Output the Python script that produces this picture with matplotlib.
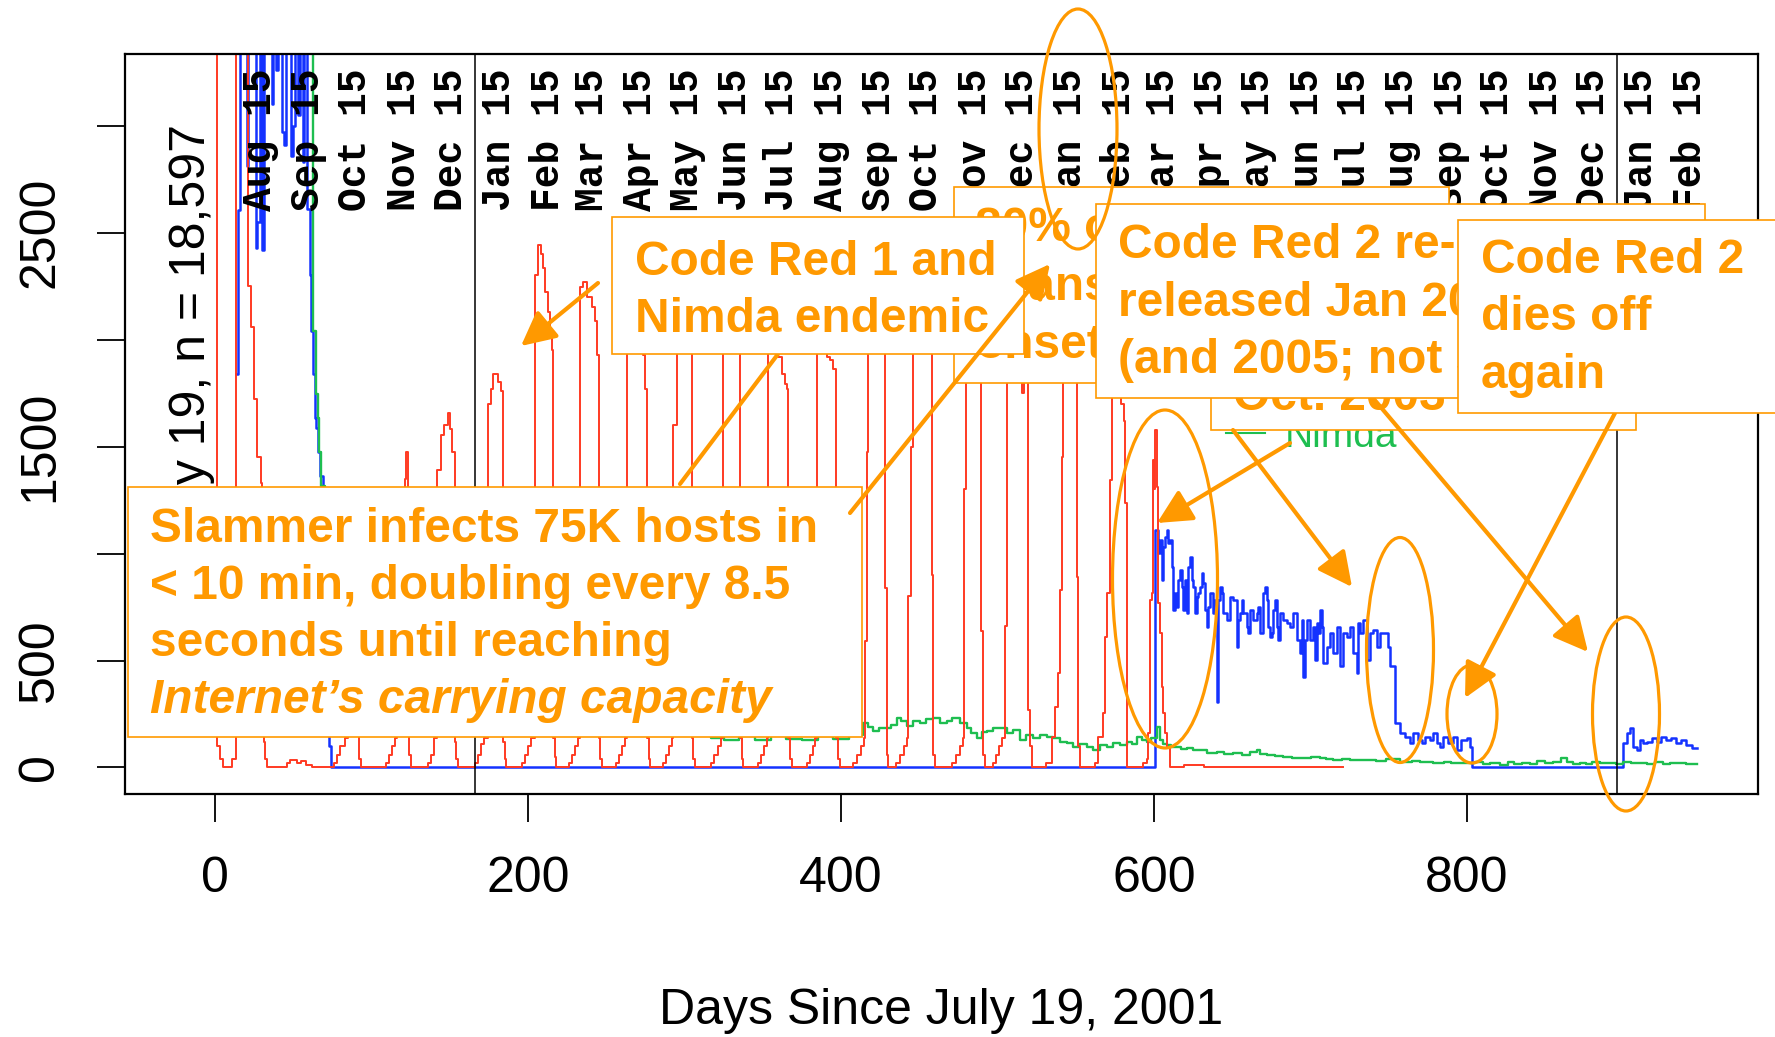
import matplotlib
matplotlib.use("Agg")
import matplotlib.pyplot as plt
from matplotlib.patches import Rectangle, Ellipse, FancyArrowPatch, ArrowStyle
from matplotlib.lines import Line2D

plt.rcParams['font.family'] = ['Liberation Sans', 'DejaVu Sans']

# hosts seen per day, (day since 2001-07-19, count) step points
red_pts = [
    (0, 4200), (1.4, 100), (3, 40), (5, 0), (11, 40), (13, 4200), (21, 2250), (23, 2060),
    (25, 1720), (27, 1450), (29, 1330), (30, 800), (31, 120), (32, 40), (33, 0),
    (46, 20), (48, 35), (52, 20), (55, 30), (58, 10), (62, 0),
    (76, 20), (78, 60), (80, 100), (83, 140), (85, 900), (89, 700), (91, 150), (92, 40), (93, 0),
    (109, 20), (111, 60), (113, 100), (115, 140), (116, 600), (121, 1350), (122, 1475), (123, 700),
    (124, 60), (125, 0),
    (136, 20), (138, 60), (140, 140), (141.5, 1390), (144.5, 1554), (146, 1600), (149, 1656),
    (150, 1580), (151.5, 1474), (153, 120), (154, 40), (155, 0),
    (166, 20), (168, 60), (170, 110), (172, 140), (174.5, 1700), (176, 1769), (177.5, 1837),
    (181, 1800), (182.5, 1760), (184, 120), (185, 40), (186, 0),
    (196, 20), (198, 60), (200, 100), (202, 140), (204.4, 2300), (206, 2440), (208, 2400),
    (209.5, 2335), (211, 2222), (212.5, 2131), (214, 2041), (215, 1950), (215.6, 1882),
    (216.1, 140), (217, 50), (218, 0),
    (226, 20), (228, 60), (230, 100), (232, 140), (233.2, 2245), (235, 2270), (237.5, 2200),
    (240.5, 2154), (242.8, 2086), (244, 1928), (245, 140), (246, 40), (247, 0),
    (256, 20), (258, 60), (260, 100), (262, 140), (263, 2300), (268, 2200), (272, 2050),
    (273.6, 1928), (274.7, 1769), (275.8, 140), (277, 40), (278, 0),
    (286, 20), (288, 60), (290, 100), (292, 140), (292.8, 1600), (294.9, 2300), (300, 2250),
    (304.5, 140), (305.5, 40), (306.5, 0),
    (317, 20), (319, 60), (321, 100), (323.5, 140), (324.8, 2250), (330, 2200), (334.4, 2000),
    (335.4, 140), (336.5, 40), (337.5, 0),
    (347, 20), (349, 60), (351, 100), (352.5, 140), (353.5, 2250), (357, 2150), (359.9, 1917),
    (362, 1837), (364.2, 1792), (365.2, 1769), (366.3, 140), (367.5, 40), (368.5, 0),
    (378, 20), (380, 60), (382, 100), (383.5, 140), (384.4, 2100), (388, 1980), (391, 1917),
    (393, 1905), (395, 1860), (397, 140), (398, 40), (399, 0),
    (407.5, 20), (410, 60), (412.5, 100), (414.5, 140), (415.3, 590), (416.3, 1475), (417.3, 2300),
    (422, 2250), (427, 1950), (428, 840), (429.1, 60), (430, 0),
    (435, 20), (437.5, 60), (440, 100), (442, 140), (443, 800), (444.5, 1500), (446, 2300),
    (452, 2250), (456.8, 2000), (458, 900), (459, 60), (460, 0),
    (471, 20), (473.5, 60), (476, 100), (478, 140), (478.5, 1300), (480, 2300), (486, 2250),
    (488.8, 1900), (489.5, 640), (490.9, 60), (492, 0),
    (497, 20), (499, 60), (501, 100), (503, 140), (504.7, 660), (505.8, 2300), (510, 2250),
    (513, 2200), (515.5, 1750), (517, 2000), (519.6, 270), (520.7, 100), (521.8, 0),
    (531, 20), (534.6, 144), (536.7, 285), (538.8, 440), (539.9, 830), (540.9, 1453), (542, 2300),
    (548, 2250), (550.5, 892), (551.6, 100), (552.7, 0),
    (562, 20), (564.4, 144), (567.6, 253), (568.6, 612), (569.7, 814), (571.8, 1344), (572.9, 2300),
    (576, 2200), (577, 1800), (579, 1700), (580.5, 1620), (581.4, 1235), (582.5, 0),
    (593, 20), (595.3, 40), (596.3, 160), (597.4, 783), (598.5, 814), (599.5, 1438), (600.2, 1300),
    (600.6, 1578), (601.6, 1313), (602.7, 767), (603.8, 627), (604.8, 378), (605.9, 253),
    (607, 160), (608, 98), (610.2, 0), (619, 12), (632, 0), (721, 0),
]

blue_pts = [
    (13.5, 1840), (14.5, 2606), (15.5, 4000), (20, 2810), (21, 4000), (26, 2430), (27, 2550),
    (28.5, 4000), (30, 2420), (31, 4000), (36, 3100), (37, 4000), (39, 3260), (40, 4000),
    (42.5, 2970), (44, 2910), (45, 4000), (48.5, 2860), (50, 3000), (51, 4000), (53, 3050),
    (54, 4000), (56, 2830), (57, 4000), (58.5, 2610), (60.5, 2300), (61.5, 2041), (62.5, 1837),
    (63.5, 1633), (64.5, 1588), (65.5, 1475), (67, 1362), (69, 1000), (71, 600), (72, 300),
    (73, 100), (74, 0),
    (600.3, 1110), (602.7, 1001), (603.8, 1064), (604.8, 877), (605.9, 1032), (607, 1079),
    (608, 1110), (609.1, 1048), (610.2, 1064), (611.2, 939), (612.3, 736), (613.4, 814),
    (614.4, 752), (615.5, 877), (616.6, 923), (617.6, 845), (618.7, 736), (619.8, 877),
    (620.8, 721), (621.9, 939), (623, 986), (624, 877), (625.1, 845), (626.1, 721), (627.2, 799),
    (628.3, 814), (629.3, 845), (630.4, 908), (631.5, 861), (632.5, 736), (633.6, 658),
    (634.7, 752), (635.7, 814), (637.9, 721), (638.9, 783), (640, 308), (641.1, 783), (642.1, 845),
    (643.2, 814), (644.3, 721), (646.4, 690), (648.5, 799), (650.6, 783), (652.8, 565),
    (653.8, 690), (654.9, 721), (656, 783), (657, 721), (659.2, 658), (660.2, 627), (661.3, 736),
    (663.4, 690), (665.5, 721), (666.6, 752), (667.7, 627), (669.8, 814), (670.9, 845),
    (672, 783), (673, 658), (674.1, 612), (675.1, 627), (676.2, 736), (677.3, 783), (678.3, 658),
    (679.4, 596), (680.5, 721), (682.6, 690), (684.7, 674), (686.9, 658), (689, 721), (691.1, 596),
    (693.2, 534), (694.3, 690), (695.4, 425), (696.4, 596), (697.5, 690), (699.6, 596),
    (701.8, 658), (702.8, 503), (703.9, 674), (704.9, 627), (706, 736), (707.1, 658), (708.2, 487),
    (710.3, 565), (712.4, 627), (714.5, 534), (716.7, 658), (718.8, 472), (720.9, 627),
    (723.1, 612), (725.2, 658), (727.3, 534), (729.4, 440), (730.5, 674), (731.6, 627),
    (733.7, 690), (735.8, 503), (738, 627), (740.1, 643), (742.2, 565), (744.4, 627), (746.5, 627),
    (748.6, 627), (749.7, 565), (750.7, 472), (752.9, 472), (753.9, 207), (757.1, 160),
    (760.3, 144), (763.5, 113), (765.7, 160), (768.9, 129), (771, 113), (773.1, 144), (776.3, 129),
    (778.4, 160), (780.6, 113), (782.7, 97), (784.8, 144), (788, 113), (791.2, 144), (793.4, 82),
    (796.5, 129), (799.7, 136), (801.9, 97), (802.9, 0),
    (900, 113), (902, 160), (904.1, 183), (906.2, 97), (908.4, 82), (910.5, 129), (912.6, 113),
    (914.8, 121), (918, 136), (921.2, 121), (924.3, 144), (927.5, 129), (930.7, 136), (933.9, 113),
    (937.1, 129), (940.3, 105), (943.5, 90), (946.7, 90),
]

green_pts = [
    (60.5, 4000), (62.3, 2041), (64.4, 1747), (65.5, 1633), (66.6, 1475), (67.6, 1316),
    (70, 1100), (80, 900), (100, 700), (130, 500), (160, 420), (200, 330), (250, 250), (290, 200),
    (310, 170), (317, 140), (325, 128), (335, 145), (345, 130), (355, 150), (365, 135), (375, 128),
    (385, 145), (395, 132), (405, 150),
    (414.2, 206), (417, 190), (420.6, 170), (424, 185), (429.1, 183), (432, 200), (435.5, 229),
    (438, 215), (441.9, 195), (446, 215), (450.4, 206), (454, 225), (459, 229), (463, 210),
    (467.5, 217), (471, 230), (476, 206), (480.3, 183), (483, 160), (486.6, 138), (490, 165),
    (493, 172), (497, 185), (501.6, 183), (505.8, 160), (510, 175), (514.3, 129), (518, 150),
    (522.8, 137), (527, 150), (531.4, 144), (535.6, 137), (540, 120), (544.1, 113), (548.4, 98),
    (552, 110), (556.9, 98), (561.2, 82), (565.4, 105), (570, 95), (574, 113), (578, 105),
    (582.5, 121), (586, 110), (588.9, 144), (592, 130), (595.3, 121), (598, 140), (601.6, 191),
    (603.8, 129), (606, 110), (608, 105), (611, 95), (614.4, 98), (617, 85), (620.8, 90),
    (625, 80), (629.3, 82), (634, 70), (640, 74), (645, 65), (650.6, 67), (656, 60), (661.3, 74),
    (665.5, 82), (668, 65), (672, 59), (677, 55), (682.6, 51), (688, 45), (693.2, 43), (700, 48),
    (706, 43), (710, 38), (714.5, 35), (720, 42), (725, 33), (735.8, 35), (742, 30), (748, 38),
    (757.1, 28), (765, 32), (770, 25), (778.4, 20), (785, 28), (790, 22), (799.7, 20), (805, 25),
    (810, 15), (815, 22), (821, 12), (826, 28), (830, 15), (835, 22), (840, 18), (845, 30),
    (850, 20), (855, 25), (860, 43), (864, 28), (868, 18), (872, 22), (876, 15), (880, 25),
    (885, 20), (890, 22), (895, 18), (900, 25), (905, 20), (910, 22), (915, 18), (920, 25),
    (925, 15), (930, 20), (935, 22), (940, 18), (945, 15), (947, 15),
]

series_names = ['Code Red 1', 'Code Red 2', 'Nimda']

month_names = ['Aug', 'Sep', 'Oct', 'Nov', 'Dec',
               'Jan', 'Feb', 'Mar', 'Apr', 'May', 'Jun', 'Jul', 'Aug', 'Sep', 'Oct', 'Nov', 'Dec',
               'Jan', 'Feb', 'Mar', 'Apr', 'May', 'Jun', 'Jul', 'Aug', 'Sep', 'Oct', 'Nov', 'Dec',
               'Jan', 'Feb']
month_days = [27, 58, 88, 119, 149,
              180, 211, 239, 270, 300, 331, 361, 392, 423, 453, 484, 514,
              545, 576, 604, 635, 665, 696, 726, 757, 788, 818, 849, 879,
              910, 941]
year_starts = [166, 896]

x_ticks = [0, 200, 400, 600, 800]
y_ticks = [0, 500, 1000, 1500, 2000, 2500, 3000]
y_tick_labels = ['0', '500', '', '1500', '', '2500', '']

count_note = 'Since July 19, n = 18,597'
x_title = 'Days Since July 19, 2001'

crn_lines = ['Code Red 1 and', 'Nimda endemic']
pct_lines = ['80% of', 'scans in', 'onset']
slam_lines = ['Slammer infects 75K hosts in', '< 10 min, doubling every 8.5',
              'seconds until reaching', 'Internet\u2019s carrying capacity']
oct_lines = ['Oct. 2003']
rerel_lines = ['Code Red 2 re-', 'released Jan 2004', '(and 2005; not shown)']
dies_lines = ['Code Red 2', 'dies off', 'again']

RED = '#FF3A22'
BLUE = '#1432FF'
GREEN = '#1EBE50'
ORANGE = '#FF9900'

W, H = 1775, 1037
fig = plt.figure(figsize=(W / 100, H / 100), dpi=100)
ax = fig.add_axes([124.5 / W, 1 - 793.6 / H, (1758 - 124.5) / W, (793.6 - 54.3) / H])


def unzip(pts):
    return [p[0] for p in pts], [p[1] for p in pts]


for pts, col, lw in [(blue_pts, BLUE, 1.8), (green_pts, GREEN, 1.7), (red_pts, RED, 1.4)]:
    d, v = unzip(pts)
    ax.step(d, v, where='post', color=col, lw=lw)

for d in year_starts:
    ax.axvline(d, color='black', lw=1.1)

for name, d in zip(month_names, month_days):
    ax.text(d + 1.5, 3268, name + ' 15', rotation=90, ha='center', va='top',
            fontsize=28.5, fontweight='bold', family='Liberation Mono')

ax.text(-15, 3005, count_note, rotation=90, ha='center', va='top', fontsize=36)

ax.set_xlim(-58, 986)
ax.set_ylim(-122, 3333)
ax.set_xticks(x_ticks)
ax.set_xticklabels([str(t) for t in x_ticks])
ax.set_yticks(y_ticks)
ax.set_yticklabels(y_tick_labels, rotation=90, va='center')
ax.tick_params(length=20, width=1.3, labelsize=36)
ax.tick_params(axis='x', pad=25)
ax.tick_params(axis='y', pad=24)
for s in ax.spines.values():
    s.set_linewidth(1.6)

ax.set_xlabel(x_title, fontsize=36)
ax.xaxis.set_label_coords(0.5, -0.3123)
ax.xaxis.label.set_va('baseline')

handles = [Line2D([], [], color=c, lw=1.5) for c in (RED, BLUE, GREEN)]
ax.legend(handles, series_names, loc='lower left',
          bbox_to_anchor=(1226 / W, 1 - 455 / H), bbox_transform=fig.transFigure,
          frameon=False, prop={'family': 'Liberation Sans', 'size': 28},
          handlelength=1.0, handletextpad=0.5, borderpad=0, borderaxespad=0,
          labelspacing=0.2, labelcolor='linecolor')


# slide annotations, positions in pixels from the top-left corner
def fx(x):
    return x / W


def fy(y):
    return 1 - y / H


def box(x0, y0, x1, y1, z):
    fig.add_artist(Rectangle((fx(x0), fy(y1)), (x1 - x0) / W, (y1 - y0) / H,
                             transform=fig.transFigure, facecolor='white',
                             edgecolor=ORANGE, lw=1.2, zorder=z))


def lines(x, y0, texts, z, dy=57.5, italic_last=False):
    for i, t in enumerate(texts):
        style = 'italic' if (italic_last and i == len(texts) - 1) else 'normal'
        fig.text(fx(x), fy(y0 + i * dy), t, color=ORANGE, fontsize=34.5,
                 fontweight='bold', style=style, family='Liberation Sans',
                 ha='left', va='baseline', zorder=z)


def arrow(x0, y0, x1, y1, z, head=True):
    style = ArrowStyle('-|>', head_length=21, head_width=10.5) if head else ArrowStyle('-')
    fig.add_artist(FancyArrowPatch((fx(x0), fy(y0)), (fx(x1), fy(y1)),
                                   transform=fig.transFigure, arrowstyle=style,
                                   mutation_scale=1, color=ORANGE, lw=3,
                                   shrinkA=0, shrinkB=0, zorder=z))


def ring(cx, cy, w, h, z=40):
    fig.add_artist(Ellipse((fx(cx), fy(cy)), w / W, h / H, transform=fig.transFigure,
                           fill=False, edgecolor=ORANGE, lw=2.3, zorder=z))


box(954, 187, 1449, 383, 10)
lines(975, 241, pct_lines, 10.1, dy=58.5)

arrow(680, 484, 778, 354, 11, head=False)

box(612, 217, 1024, 354, 12)
lines(635, 275, crn_lines, 12.1, dy=57)

box(128, 487, 862, 737, 12)
lines(149.5, 542, slam_lines, 12.1, dy=57, italic_last=True)

box(1211, 300, 1636, 430, 13)
lines(1233, 410, oct_lines, 13.1)

arrow(1233, 430, 1352, 587, 14)
arrow(1373, 398, 1588, 652, 14)
arrow(1615, 413, 1465, 698, 14)

box(1096, 204, 1705, 398, 15)
lines(1118, 258, rerel_lines, 15.1, dy=57.5)

box(1458, 220, 1800, 413, 16)
lines(1481, 273, dies_lines, 16.1, dy=57.5)

arrow(598, 283, 521, 346, 20)
arrow(850, 513, 1050, 264, 20)
arrow(1290, 443, 1157, 523, 20)

ring(1078, 129, 78, 240)
ring(1165, 579, 105, 338)
ring(1400, 650, 67, 225)
ring(1472, 714, 50, 98)
ring(1626, 714, 67, 194)

fig.savefig('out.png', dpi=100)
